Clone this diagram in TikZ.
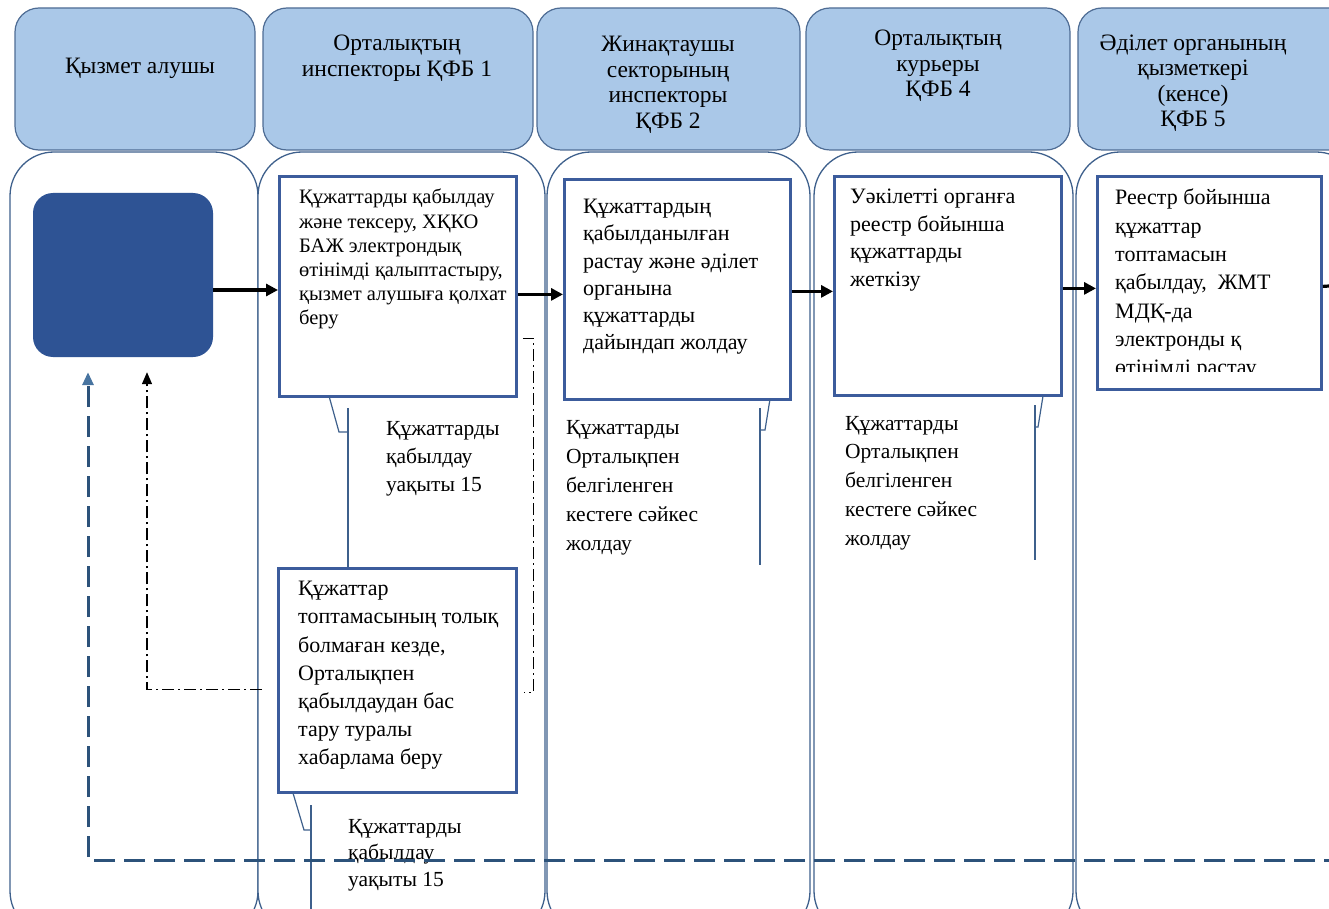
\documentclass[tikz,border=0pt]{standalone}
\usepackage{fontspec}
\setmainfont{Liberation Serif}
\usetikzlibrary{arrows.meta,calc}

\definecolor{hdrfill}{RGB}{170,200,232}
\definecolor{hdrline}{RGB}{78,108,148}
\definecolor{laneline}{RGB}{62,96,140}
\definecolor{boxline}{RGB}{60,92,156}
\definecolor{startfill}{RGB}{46,83,148}
\definecolor{dashblue}{RGB}{44,82,122}
\definecolor{tipblue}{RGB}{72,116,160}

\tikzset{
  hdr/.style={draw=hdrline, line width=1.2pt, fill=hdrfill, rounded corners=24pt},
  lane/.style={draw=laneline, line width=1.3pt, fill=white, rounded corners=44pt},
  stepbox/.style={draw=boxline, line width=2.8pt, fill=white, inner sep=0pt, anchor=north west},
  txt/.style={anchor=north west, inner sep=0pt, align=left, font=\fontsize{22}{28}\selectfont},
  hdrtxt/.style={align=center, inner sep=0pt, font=\fontsize{23.5}{25.5}\selectfont},
  flow/.style={line width=3.2pt, -{Triangle[length=12pt,width=12pt]}},
  call/.style={draw=laneline, line width=1.2pt},
  back/.style={line width=1.3pt, dash pattern=on 12pt off 4pt on 2pt off 4pt, -{Triangle[length=12pt,width=10pt]}},
  retn/.style={draw=dashblue, line width=3pt, dash pattern=on 21pt off 9pt, -{Triangle[length=13pt,width=11pt,color=tipblue,fill=tipblue]}},
}

\begin{document}
\begin{tikzpicture}[x=1pt, y=-1pt]
  \useasboundingbox (0,0) rectangle (1329,909);
  % lanes and headers
  \foreach \l/\r in {10/258, 258/545, 547/810, 814/1073, 1076/1360}
    \draw[lane] (\l,152) rectangle (\r,935);
  \foreach \l/\r in {15/255, 263/533, 537/800, 806/1070, 1078/1360}
    \draw[hdr] (\l,8) rectangle (\r,150);

  \node[hdrtxt] (h1) at (140,68) {Қызмет алушы};
  \node[hdrtxt] (h2) at (397,58) {Орталықтың\\инспекторы ҚФБ 1};
  \node[hdrtxt] (h3) at (668,85) {Жинақтаушы\\секторының\\инспекторы\\ҚФБ 2};
  \node[hdrtxt] (h4) at (938,66) {Орталықтың\\курьеры\\ҚФБ 4};
  \node[hdrtxt] (h5) at (1193,83) {Әділет органының\\қызметкері\\(кенсе)\\ҚФБ 5};

  % steps
  \node[fill=startfill, rounded corners=20pt, minimum width=180pt, minimum height=164pt, inner sep=0pt] (start) at (123,275) {};
  \node[stepbox, minimum width=237pt, minimum height=220pt] (box1) at (278,175) {};
  \node[stepbox, minimum width=226pt, minimum height=220pt] (box2) at (563,178) {};
  \node[stepbox, minimum width=227pt, minimum height=219pt] (box3) at (833,175) {};
  \node[stepbox, minimum width=224pt, minimum height=213pt] (box4) at (1096,175) {};
  \node[stepbox, minimum width=238pt, minimum height=224pt] (box5) at (277,567) {};

  \node[txt, font=\fontsize{20.5}{24.2}\selectfont] (box1t) at (299,189) {Құжаттарды қабылдау\\және тексеру, ХҚКО\\БАЖ электрондық\\өтінімді қалыптастыру,\\қызмет алушыға қолхат\\беру};
  \node[txt, font=\fontsize{22}{27.2}\selectfont] (box2t) at (583,199) {Құжаттардың\\қабылданылған\\растау және әділет\\органына\\құжаттарды\\дайындап жолдау};
  \node[txt, font=\fontsize{22}{27.5}\selectfont] (box3t) at (850,189) {Уәкілетті органға\\реестр бойынша\\құжаттарды\\жеткізу};
  \begin{scope}
    \clip (1098,177) rectangle (1318,371);
    \node[txt, font=\fontsize{22}{28.3}\selectfont] (box4t) at (1115,189) {Реестр бойынша\\құжаттар\\топтамасын\\қабылдау,~ ЖМТ\\МДҚ-да\\электронды қ\\өтінімді растау};
  \end{scope}
  \node[txt, font=\fontsize{22}{28.2}\selectfont] (box5t) at (298,581) {Құжаттар\\топтамасының толық\\болмаған кезде,\\Орталықпен\\қабылдаудан бас\\тару туралы\\хабарлама беру};

  % callouts
  \node[txt, font=\fontsize{21.5}{28}\selectfont] (c1) at (386,421) {Құжаттарды\\қабылдау\\уақыты 15};
  \draw[call] (329,396) -- (339,432) -- (348,432);
  \draw[call] (348,408) -- (box5.north -| 348,0);
  \node[txt, font=\fontsize{21.5}{26.5}\selectfont] (c2) at (348,819) {Құжаттарды\\қабылдау\\уақыты 15};
  \draw[call] (293,793) -- (304,830) -- (311,830);
  \draw[call] (311,805) -- (311,915);
  \node[txt, font=\fontsize{21.5}{29}\selectfont] (c3) at (566,420) {Құжаттарды\\Орталықпен\\белгіленген\\кестеге сәйкес\\жолдау};
  \draw[call] (770,399) -- (765,430) -- (760,430);
  \draw[call] (760,408) -- (760,565);
  \node[txt, font=\fontsize{21.5}{28.7}\selectfont] (c4) at (845,416) {Құжаттарды\\Орталықпен\\белгіленген\\кестеге сәйкес\\жолдау};
  \draw[call] (1043,396) -- (1038,427) -- (1035,427);
  \draw[call] (1035,405) -- (1035,560);

  % connectors
  \coordinate (offr) at (1345,285);
  \coordinate (retend) at (1345,860);
  \draw[flow] ([yshift=-15pt]start.east) -- ([yshift=-15pt]start.east -| box1.west);
  \draw[flow] ([yshift=-8pt]box1.east) -- ([yshift=-8pt]box1.east -| box2.west);
  \draw[flow] ([yshift=-2pt]box2.east) -- ([yshift=-2pt]box2.east -| box3.west);
  \draw[flow] ([yshift=-2.5pt]box3.east) -- ([yshift=-2.5pt]box3.east -| box4.west);
  \draw[line width=3.2pt] ([yshift=-3.5pt]box4.east) -- (offr);
  \draw[back] ([xshift=-15pt,yshift=-9pt]box5.west) -| ([xshift=24pt,yshift=-15pt]start.south);
  \draw[line width=1.2pt, dash pattern=on 12pt off 4pt on 2pt off 4pt]
    ([xshift=5pt,yshift=-52pt]box1.east) -- ++(11,0) |- ([xshift=6pt,yshift=-12pt]box5.east);
  \draw[retn] (retend) -| ([xshift=-35pt,yshift=-15pt]start.south);
\end{tikzpicture}
\end{document}
